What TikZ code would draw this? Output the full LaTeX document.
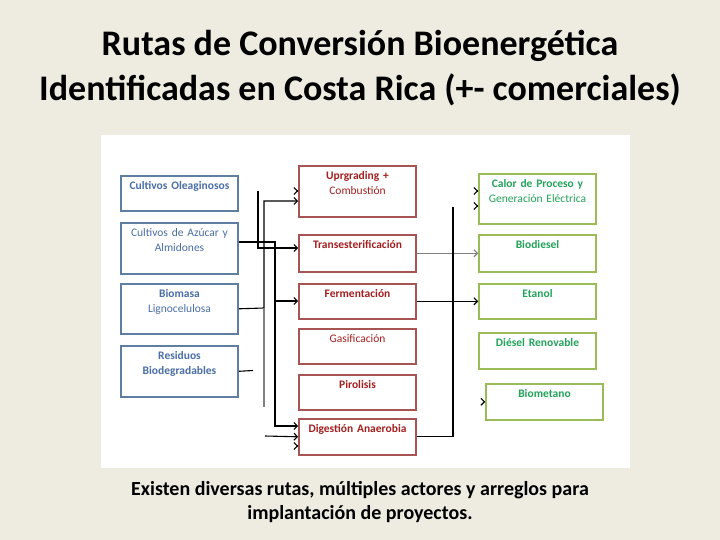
\documentclass[tikz,border=0pt]{standalone}
\usepackage{fontspec}
\setmainfont{Carlito}
\usetikzlibrary{arrows.meta}
\definecolor{slidebg}{HTML}{EEECE1}
\definecolor{srcdraw}{HTML}{5F7FA2}
\definecolor{srctext}{HTML}{4A6EA6}
\definecolor{procdraw}{HTML}{A65454}
\definecolor{proctext}{HTML}{A31F1F}
\definecolor{proddraw}{HTML}{9BBB59}
\definecolor{prodtext}{HTML}{22A35A}

\begin{document}
\begin{tikzpicture}[x=1pt,y=-1pt,>={Straight Barb[length=3.5pt,width=7pt]},box/.style={draw,line width=1.6pt,anchor=north,inner xsep=2pt,inner ysep=0pt,text width=113pt,align=center,text height=14pt,font=\fontsize{11.5}{15}\selectfont},src/.style={box,draw=srcdraw,text=srctext},proc/.style={box,draw=procdraw,text=proctext},prod/.style={box,draw=proddraw,text=prodtext},wire/.style={line width=1.1pt},title/.style={font=\fontsize{36}{40}\selectfont\bfseries},note/.style={font=\fontsize{20}{24}\selectfont\bfseries}]
\def\xl{179.5};
\def\xm{357.5};
\def\xr{537.5};

\fill[slidebg] (0,0) rectangle (720,540);
\useasboundingbox (0,0) rectangle (720,540);
\fill[white] (101,135) rectangle (630,468);

\node[title] (t1) at (360,46) {Rutas de Conversión Bioenergética};
\node[title] (t2) at (360,90) {Identificadas en Costa Rica (+- comerciales)};

\node[src,text depth=21pt] (oleag) at (\xl,175) {\bfseries Cultivos Oleaginosos};
\node[src,text depth=37pt] (azucar) at (\xl,222) {Cultivos de Azúcar y\\Almidones};
\node[src,text depth=36pt] (biomasa) at (\xl,283) {\textbf{Biomasa}\\Lignocelulosa};
\node[src,text depth=37pt] (residuos) at (\xl,345) {\bfseries Residuos\\Biodegradables};

\node[proc,text depth=37pt] (upgr) at (\xm,165) {\textbf{Uprgrading +}\\Combustión};
\node[proc,text depth=23pt] (trans) at (\xm,234) {\bfseries Transesterificación};
\node[proc,text depth=21pt] (ferm) at (\xm,283) {\bfseries Fermentación};
\node[proc,text depth=21pt] (gasif) at (\xm,328) {Gasificación};
\node[proc,text depth=21pt] (pirol) at (\xm,374) {\bfseries Pirolisis};
\node[proc,text depth=22pt] (digest) at (\xm,418) {\bfseries Digestión Anaerobia};

\node[prod,text depth=36pt] (calor) at (\xr,173) {\textbf{Calor de Proceso y}\\Generación Eléctrica};
\node[prod,text depth=23pt] (biodsl) at (\xr,234) {\bfseries Biodiesel};
\node[prod,text depth=21pt] (etanol) at (\xr,283) {\bfseries Etanol};
\node[prod,text depth=22pt] (direnov) at (\xr,332) {\bfseries Diésel Renovable};
\node[prod,text depth=22pt] (biomet) at (\xr+7,383) {\bfseries Biometano};

\coordinate (olend) at (258,191);
\coordinate (azj) at (275,301);
\coordinate (bioj) at (264,308);
\coordinate (bioend) at (264,407);
\coordinate (resend) at (253,370.5);
\coordinate (digin) at (265,436);
\coordinate (outj) at (453,207);

\draw[wire,->] (olend) |- (trans.west |- 0,248);
\draw[wire,->] (azucar.east |- 0,242) -| (azj) -- (ferm.west |- azj);
\draw[wire,->] (azj) |- (digest.west |- 0,426);
\draw[wire,->] (biomasa.east) -- (bioj) |- (upgr.west |- 0,201);
\draw[wire,gray] (bioj) -- (bioend);
\draw[wire] (residuos.east) -- (resend);
\draw[wire,->] (digin) -- (digest.west);

\draw[wire,->] ([xshift=-1pt]upgr.west |- 0,191) -- (upgr.west |- 0,191);
\draw[wire,->] ([xshift=-1pt]digest.west |- 0,446) -- (digest.west |- 0,446);

\draw[wire,->,gray] (trans.east) -- (biodsl.west);
\draw[wire,->] (ferm.east) -- (etanol.west);
\draw[wire] (digest.east) -| (outj);

\draw[wire,->] ([xshift=-1pt]calor.west |- 0,191) -- (calor.west |- 0,191);
\draw[wire,->] ([xshift=-1pt]calor.west |- 0,206) -- (calor.west |- 0,206);
\draw[wire,->] ([xshift=-1pt]biomet.west) -- (biomet.west);

\node[note] (n1) at (360,490) {Existen diversas rutas, múltiples actores y arreglos para};
\node[note] (n2) at (360,514) {implantación de proyectos.};
\end{tikzpicture}
\end{document}
